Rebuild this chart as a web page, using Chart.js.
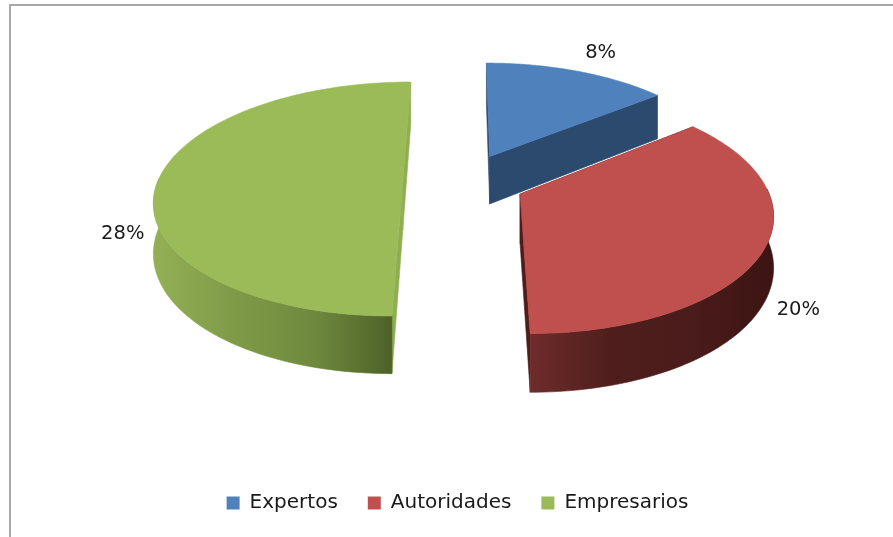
<!DOCTYPE html>
<html><head><meta charset="utf-8">
<style>html,body{margin:0;padding:0;background:#fff;overflow:hidden}#w{width:893px;height:537px;position:relative}canvas{display:block;filter:blur(0.4px)}</style>
<script src="https://cdn.jsdelivr.net/npm/chart.js@4"></script>
</head><body><div id="w"><canvas id="c" width="893" height="537"></canvas></div>
<script>
const categories = ['Expertos','Autoridades','Empresarios'];
const values = [8,20,28];
const percentLabels = ['8%','20%','28%'];
const topColors = ['#4f81bd','#c0504d','#9bbb59'];
const cutColors = ['#2c4a6e','#4d1c1b','#8fae50'];
const wallStops = [
  ['#2c4a6e','#2c4a6e'],
  ['#6e2c2b','#4f1e1c','#4a1c1b','#3c1413'],
  ['#93b055','#7f9b48','#6f8a3e','#4e6228']
];
const labelNudges = [[23,-18],[34,61],[-35,52]];
const drawOrder = [0,2,1];
// simple perspective camera for the tilted, exploded pie
const explode = 0.25, persp = 0.15, camX = 464, camA = 245, camP = -87.15, camQ = 181.45, thick = 49;

function project(X,Y,Z){
  const w = 1 + persp*Y;
  return [camX + camA*X/w, (camP*Y + camQ + thick*Z)/w];
}
function pie3dDraw(chart){
  const ctx = chart.ctx, arcs = chart.getDatasetMeta(0).data;
  drawOrder.forEach(i=>{
    const a = arcs[i], s = a.startAngle, e = a.endAngle, m = (s+e)/2;
    const ox = explode*Math.cos(m), oy = -explode*Math.sin(m);
    const at = (ang,r,z)=>project(ox + r*Math.cos(ang), oy - r*Math.sin(ang), z);
    const n = 96, angs = [];
    for(let k=0;k<=n;k++)angs.push(s+(e-s)*k/n);
    const poly = (pts,fill)=>{ctx.beginPath();pts.forEach((p,j)=>j?ctx.lineTo(p[0],p[1]):ctx.moveTo(p[0],p[1]));ctx.closePath();ctx.fillStyle=fill;ctx.fill();ctx.strokeStyle=fill;ctx.lineWidth=0.6;ctx.stroke();};
    const c0 = at(0,0,0), c1 = at(0,0,1), t = angs.map(v=>at(v,1,0));
    // cut faces
    poly([c0,at(s,1,0),at(s,1,1),c1],cutColors[i]);
    poly([c0,at(e,1,0),at(e,1,1),c1],cutColors[i]);
    // outer wall, only where it faces the viewer
    const near = angs.filter(v=>Math.sin(v)>-0.05);
    if(near.length>1){
      const nt = near.map(v=>at(v,1,0)), nb = near.map(v=>at(v,1,1));
      const xs = nt.map(p=>p[0]), x0 = Math.min(...xs), x1 = Math.max(...xs);
      const g = ctx.createLinearGradient(x0,0,x1,0);
      wallStops[i].forEach((col,j,arr)=>g.addColorStop(j/(arr.length-1),col));
      poly(nt.concat(nb.reverse()),g);
    }
    // top face
    poly([c0].concat(t),topColors[i]);
  });
  // value labels
  ctx.font = '19.5px "DejaVu Sans"';ctx.fillStyle='#1a1a1a';ctx.textAlign='center';ctx.textBaseline='middle';
  arcs.forEach((a,i)=>{
    const m=(a.startAngle+a.endAngle)/2, X=(1+explode)*Math.cos(m), Y=-(1+explode)*Math.sin(m), p=project(X,Y,0);
    ctx.fillText(percentLabels[i],p[0]+labelNudges[i][0],p[1]+labelNudges[i][1]);
  });
}
const pie3d = {
  id:'pie3d',
  beforeDraw(chart){
    const ctx=chart.ctx;ctx.save();ctx.strokeStyle='#a8a8a8';ctx.lineWidth=2;
    ctx.beginPath();ctx.moveTo(10,537);ctx.lineTo(10,5);ctx.lineTo(893,5);ctx.stroke();ctx.restore();
  },
  afterLayout(chart){const l=chart.legend;l.top-=14;l.bottom-=14;l.left+=11;l.right+=11;},
  beforeDatasetDraw(chart){chart.ctx.save();pie3dDraw(chart);chart.ctx.restore();return false;}
};
new Chart(document.getElementById('c'),{
  type:'pie',
  data:{labels:categories,datasets:[{data:values,backgroundColor:topColors,borderWidth:0}]},
  options:{
    responsive:false,animation:false,rotation:0,
    plugins:{tooltip:{enabled:false},
      legend:{position:'bottom',labels:{boxWidth:13,boxHeight:13,padding:30,color:'#1a1a1a',font:{family:'"DejaVu Sans"',size:20}}}}
  },
  plugins:[pie3d]
});
</script></body></html>
